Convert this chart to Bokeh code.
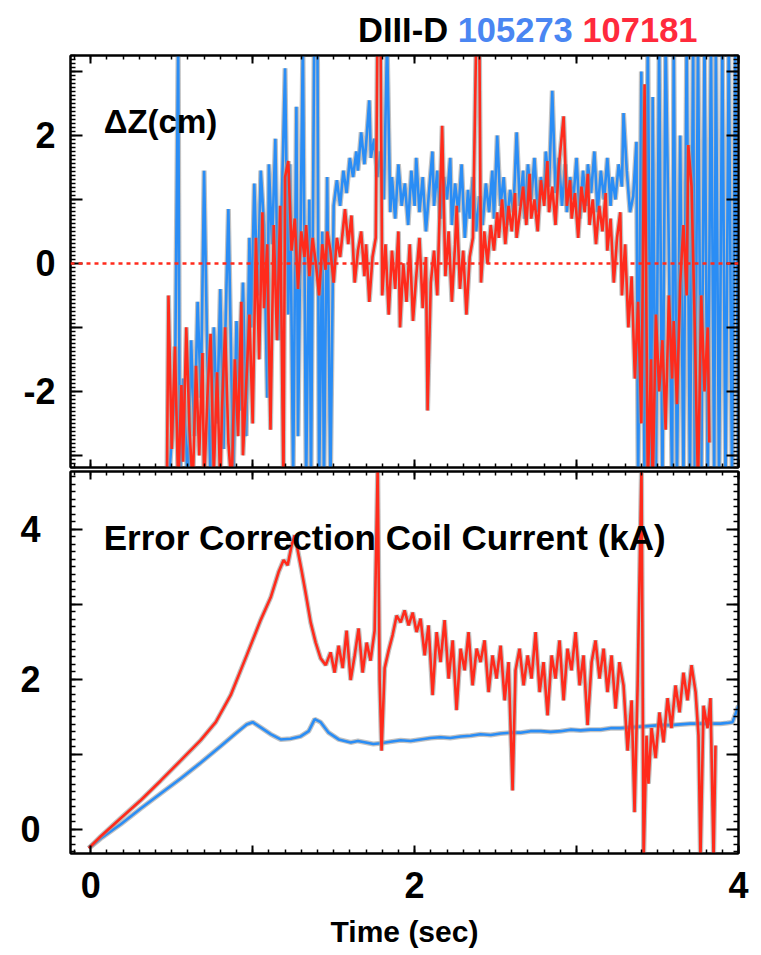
from bokeh.plotting import figure
from bokeh.layouts import column
from bokeh.models import Range1d, LinearAxis, FixedTicker, Span, Label, Div
from bokeh.embed import file_html
from bokeh.resources import INLINE

# ---------------------------------------------------------------- data
SHOT_A = "105273"   # blue
SHOT_B = "107181"   # red
BLUE = "#2a8df5"
RED = "#ff2b1c"
HALO = "#9a9a9a"

# vertical displacement Delta Z (cm) vs time (s), shot 105273
DZ_A = [
    (0.48, -3.5), (0.52, -2.0), (0.54, 3.5), (0.55, -3.5), (0.57, -1.8), (0.60, -3.5),
    (0.62, -1.2), (0.64, -2.7), (0.66, -0.6), (0.68, -2.1), (0.70, 1.45), (0.72, -1.5),
    (0.74, -3.4), (0.76, -1.0), (0.78, -2.5), (0.80, -0.4), (0.82, -2.9), (0.83, -1.2),
    (0.85, 0.85), (0.87, -1.9), (0.88, -3.4), (0.90, -0.9), (0.92, -2.3), (0.94, -0.3),
    (0.96, -2.7), (0.98, 0.4), (0.99, -1.0), (1.01, 1.25), (1.03, -0.5), (1.05, 1.45),
    (1.07, 0.6), (1.09, -2.1), (1.10, 1.55), (1.12, 0.3), (1.14, 1.95), (1.16, -1.2),
    (1.18, 1.0), (1.20, 3.05), (1.22, -0.8), (1.23, 1.55), (1.25, -3.4), (1.27, 2.45),
    (1.28, -2.7), (1.31, 3.5), (1.33, -3.5), (1.35, 1.0), (1.36, -3.5), (1.38, 3.5),
    (1.40, 3.5), (1.41, -3.5), (1.43, 0.5), (1.44, -3.5), (1.46, 1.35), (1.48, -3.5),
    (1.50, 0.9), (1.52, 1.3), (1.54, 0.9), (1.56, 1.45), (1.58, 1.1), (1.60, 1.65),
    (1.62, 1.35), (1.64, 1.75), (1.65, 1.45), (1.67, 2.05), (1.69, 1.55), (1.70, 1.85),
    (1.72, 2.55), (1.73, 1.65), (1.75, 1.95), (1.77, 1.35), (1.79, 1.75), (1.81, 1.0),
    (1.83, 3.5), (1.85, 0.8), (1.86, 1.35), (1.88, 0.7), (1.90, 1.55), (1.92, 0.9),
    (1.94, 1.25), (1.96, 0.6), (1.98, 1.45), (2.00, 0.9), (2.01, 1.65), (2.03, 0.8),
    (2.05, 1.35), (2.07, 0.5), (2.09, 1.15), (2.11, 1.75), (2.12, 0.9), (2.14, 1.45),
    (2.16, 0.7), (2.18, 1.35), (2.20, 1.0), (2.22, 1.65), (2.23, 0.6), (2.25, 1.25),
    (2.27, 0.8), (2.29, 1.55), (2.31, 0.4), (2.33, 1.15), (2.34, 0.7), (2.36, 1.35),
    (2.38, 0.5), (2.40, 1.05), (2.42, 0.6), (2.44, 1.25), (2.46, 0.8), (2.48, 1.45),
    (2.49, 0.7), (2.51, 2.0), (2.53, 0.9), (2.55, 1.35), (2.57, 0.6), (2.59, 1.15),
    (2.61, 0.8), (2.63, 2.05), (2.65, 0.9), (2.67, 1.45), (2.68, 0.7), (2.70, 1.55),
    (2.72, 1.0), (2.74, 1.65), (2.76, 0.8), (2.78, 1.35), (2.80, 1.0), (2.81, 1.75),
    (2.83, 1.2), (2.85, 2.7), (2.87, 1.1), (2.89, 1.65), (2.91, 0.9), (2.93, 1.55),
    (2.94, 0.8), (2.96, 1.35), (2.98, 1.0), (3.00, 1.65), (3.02, 0.7), (3.04, 1.45),
    (3.06, 0.9), (3.07, 1.55), (3.09, 1.1), (3.11, 1.75), (3.13, 0.8), (3.15, 1.45),
    (3.17, 1.0), (3.19, 1.65), (3.21, 0.9), (3.22, 1.35), (3.24, 1.0), (3.26, 1.55),
    (3.28, 1.2), (3.29, 2.35), (3.31, 1.45), (3.33, 0.8), (3.35, 1.05), (3.37, 1.9),
    (3.38, -3.5), (3.40, 3.0), (3.42, -3.5), (3.44, 3.5), (3.46, -3.5), (3.47, 2.6),
    (3.49, -3.5), (3.51, 3.5), (3.53, -3.5), (3.55, 3.5), (3.57, 0.2), (3.59, -3.5),
    (3.60, 3.5), (3.62, -3.5), (3.64, 2.0), (3.66, -3.5), (3.68, 3.5), (3.70, -3.5),
    (3.72, 3.5), (3.73, -3.5), (3.75, 3.5), (3.77, -3.5), (3.79, 3.5), (3.81, -3.5),
    (3.83, 3.5), (3.85, -3.5), (3.86, 3.5), (3.88, -3.5), (3.90, 3.5), (3.92, -3.5),
    (3.94, 3.5), (3.96, -3.5), (3.98, 3.5), (4.00, -3.5),
]

# vertical displacement Delta Z (cm) vs time (s), shot 107181
DZ_B = [
    (0.47, -3.5), (0.48, -0.5), (0.50, -2.9), (0.52, -1.3), (0.54, -3.5), (0.56, -1.9),
    (0.57, -3.1), (0.59, -1.0), (0.61, -2.6), (0.63, -3.5), (0.65, -1.6), (0.67, -3.0),
    (0.69, -1.4), (0.70, -3.5), (0.72, -2.1), (0.74, -1.1), (0.76, -3.3), (0.78, -1.7),
    (0.80, -3.5), (0.81, -2.3), (0.83, -1.0), (0.85, -2.8), (0.87, -3.5), (0.89, -1.5),
    (0.91, -2.7), (0.93, -0.6), (0.94, -3.0), (0.96, -1.9), (0.98, -0.8), (1.00, -2.5),
    (1.02, 0.4), (1.04, -1.5), (1.06, 0.8), (1.07, -0.7), (1.09, 0.3), (1.11, -2.6),
    (1.13, 0.6), (1.15, -1.2), (1.17, 0.9), (1.19, -3.5), (1.20, 1.35), (1.22, 1.6),
    (1.24, 0.2), (1.26, 0.7), (1.28, -0.4), (1.30, 0.5), (1.32, 0.1), (1.33, 0.6),
    (1.35, -0.2), (1.37, 0.4), (1.39, 0.0), (1.41, -0.5), (1.43, 0.3), (1.45, -0.1),
    (1.46, 0.5), (1.48, 0.2), (1.50, -0.3), (1.52, 0.4), (1.54, 0.1), (1.56, 0.6),
    (1.57, 0.85), (1.59, 0.3), (1.61, 0.75), (1.63, -0.3), (1.65, 0.2), (1.67, 0.5),
    (1.69, -0.2), (1.70, 0.3), (1.72, -0.6), (1.74, 0.1), (1.76, 0.4), (1.77, 3.5),
    (1.79, 3.5), (1.80, -0.5), (1.82, 0.3), (1.84, -0.8), (1.86, 0.2), (1.88, -0.4),
    (1.90, 0.5), (1.91, -1.0), (1.93, 0.0), (1.95, -0.6), (1.97, 0.3), (1.99, -0.9),
    (2.01, -0.2), (2.03, 0.4), (2.05, -0.7), (2.07, 0.1), (2.08, -2.3), (2.10, -0.3),
    (2.12, 0.2), (2.14, -0.5), (2.15, 0.4), (2.17, 2.15), (2.19, -0.2), (2.21, 0.5),
    (2.23, -0.6), (2.25, 0.3), (2.26, 0.9), (2.28, -0.4), (2.30, 0.2), (2.32, -0.8),
    (2.34, 0.1), (2.36, 0.4), (2.38, 3.5), (2.40, 3.5), (2.41, -0.3), (2.43, 0.5),
    (2.45, 0.0), (2.47, 0.6), (2.49, 0.2), (2.51, 0.8), (2.52, 0.4), (2.54, 1.0),
    (2.56, 0.3), (2.58, 0.9), (2.60, 0.5), (2.62, 1.1), (2.63, 0.4), (2.65, 0.8),
    (2.67, 1.2), (2.69, 0.6), (2.71, 1.4), (2.72, 0.7), (2.74, 1.0), (2.76, 0.5),
    (2.78, 1.3), (2.80, 0.9), (2.82, 1.6), (2.83, 0.8), (2.85, 1.2), (2.87, 0.6),
    (2.89, 1.5), (2.92, 2.3), (2.94, 0.9), (2.96, 1.3), (2.97, 0.7), (2.99, 1.1),
    (3.01, 0.4), (3.03, 1.2), (3.05, 0.8), (3.07, 1.4), (3.08, 0.6), (3.10, 1.0),
    (3.12, 0.3), (3.14, 0.9), (3.16, 0.5), (3.18, 1.1), (3.19, 0.2), (3.21, 0.7),
    (3.23, -0.3), (3.25, 0.4), (3.27, 0.8), (3.28, -0.5), (3.30, 0.3), (3.32, -1.0),
    (3.34, -0.2), (3.36, -1.8), (3.38, -0.6), (3.40, -2.5), (3.42, 2.8), (3.44, -3.5),
    (3.46, -1.5), (3.47, -3.5), (3.49, -0.8), (3.51, -2.0), (3.53, -1.2), (3.55, -2.6),
    (3.57, -0.5), (3.59, -1.8), (3.60, -0.9), (3.62, -2.2), (3.64, -0.3), (3.66, 0.6),
    (3.68, -0.5), (3.69, 1.85), (3.71, 1.2), (3.73, -1.0), (3.75, -3.5), (3.77, -0.5),
    (3.79, -2.0), (3.81, -1.0), (3.82, -2.8),
]

# error correction coil current (kA) vs time (s), shot 105273
ECC_A = [
    (-0.012, -0.25), (0.062, -0.12), (0.185, 0.07), (0.309, 0.28), (0.432, 0.48),
    (0.556, 0.68), (0.679, 0.89), (0.802, 1.11), (0.895, 1.28), (0.963, 1.40),
    (1.000, 1.43), (1.049, 1.36), (1.111, 1.27), (1.173, 1.20), (1.235, 1.21),
    (1.296, 1.24), (1.346, 1.31), (1.383, 1.47), (1.420, 1.43), (1.469, 1.29),
    (1.531, 1.20), (1.605, 1.16), (1.650, 1.18), (1.698, 1.16), (1.745, 1.14),
    (1.790, 1.15), (1.850, 1.17), (1.914, 1.19), (1.975, 1.18), (2.037, 1.20),
    (2.100, 1.22), (2.160, 1.23), (2.220, 1.22), (2.284, 1.24), (2.345, 1.25),
    (2.407, 1.27), (2.470, 1.26), (2.531, 1.28), (2.590, 1.29), (2.654, 1.29),
    (2.715, 1.31), (2.778, 1.31), (2.840, 1.30), (2.901, 1.31), (2.963, 1.33),
    (3.025, 1.32), (3.085, 1.33), (3.148, 1.33), (3.210, 1.35), (3.272, 1.35),
    (3.333, 1.36), (3.395, 1.37), (3.457, 1.38), (3.519, 1.39), (3.580, 1.39),
    (3.642, 1.40), (3.703, 1.41), (3.765, 1.41), (3.827, 1.41), (3.889, 1.41),
    (3.930, 1.42), (3.963, 1.43), (4.000, 1.65),
]

# error correction coil current (kA) vs time (s), shot 107181
ECC_B = [
    (-0.012, -0.25), (0.062, -0.09), (0.185, 0.15), (0.309, 0.39), (0.432, 0.65),
    (0.556, 0.92), (0.679, 1.19), (0.772, 1.43), (0.864, 1.79), (0.963, 2.32),
    (1.049, 2.79), (1.111, 3.09), (1.160, 3.43), (1.191, 3.59), (1.216, 3.52),
    (1.241, 3.79), (1.259, 3.92), (1.278, 3.72), (1.302, 3.45), (1.327, 3.15),
    (1.358, 2.76), (1.389, 2.49), (1.420, 2.28), (1.451, 2.19), (1.481, 2.36),
    (1.506, 2.09), (1.531, 2.45), (1.556, 2.15), (1.580, 2.65), (1.605, 1.99),
    (1.630, 2.32), (1.654, 2.68), (1.679, 2.09), (1.704, 2.49), (1.728, 2.25),
    (1.753, 2.65), (1.772, 4.85), (1.784, 1.99), (1.796, 1.05), (1.815, 2.15),
    (1.840, 2.39), (1.864, 2.59), (1.889, 2.85), (1.914, 2.76), (1.938, 2.92),
    (1.963, 2.72), (1.988, 2.89), (2.012, 2.63), (2.037, 2.81), (2.062, 2.32),
    (2.086, 2.72), (2.111, 1.79), (2.136, 2.63), (2.160, 2.23), (2.185, 2.79),
    (2.210, 2.01), (2.235, 2.52), (2.259, 1.59), (2.284, 2.41), (2.309, 2.12),
    (2.333, 2.63), (2.358, 1.92), (2.383, 2.41), (2.407, 2.23), (2.432, 2.52),
    (2.457, 1.83), (2.481, 2.32), (2.506, 2.01), (2.531, 2.45), (2.556, 1.72),
    (2.580, 2.23), (2.605, 0.52), (2.623, 2.12), (2.648, 2.41), (2.673, 1.92),
    (2.698, 2.32), (2.722, 2.01), (2.747, 2.63), (2.772, 1.83), (2.796, 2.23),
    (2.821, 1.52), (2.846, 2.32), (2.870, 2.01), (2.895, 2.52), (2.920, 1.72),
    (2.944, 2.41), (2.969, 2.12), (2.994, 2.63), (3.019, 1.92), (3.043, 2.32),
    (3.068, 1.39), (3.093, 2.23), (3.117, 2.52), (3.142, 2.01), (3.167, 2.41),
    (3.191, 1.83), (3.216, 2.32), (3.241, 1.61), (3.265, 2.23), (3.290, 1.92),
    (3.315, 1.05), (3.340, 1.72), (3.358, 0.23), (3.377, 1.92), (3.401, 4.85),
    (3.414, -0.40), (3.432, 1.25), (3.444, 0.61), (3.463, 1.35), (3.488, 0.95),
    (3.512, 1.56), (3.537, 1.16), (3.562, 1.75), (3.586, 1.35), (3.611, 1.92),
    (3.636, 1.56), (3.660, 2.09), (3.685, 1.72), (3.710, 2.19), (3.735, 1.83),
    (3.753, 1.25), (3.765, -0.40), (3.784, 1.65), (3.809, 1.35), (3.827, 1.75),
    (3.846, -0.40), (3.858, 1.12),
]

# axis ticks and labels
X_TICKS = [0, 1, 2, 3, 4]
X_LABELS = {0: "0", 1: "", 2: "2", 3: "", 4: "4"}
DZ_TICKS = [-3, -2, -1, 0, 1, 2, 3]
DZ_LABELS = {-3: "", -2: "-2", -1: "", 0: "0", 1: "", 2: "2", 3: ""}
ECC_TICKS = [0, 1, 2, 3, 4]
ECC_LABELS = {0: "0", 1: "", 2: "2", 3: "", 4: "4"}

# header: machine name followed by the two shot numbers
HEAD_TEXT = ["DIII-D", SHOT_A, SHOT_B]
HEAD_COLORS = ["#000000", "#4a86f2", "#ff2a3c"]

FONT = "Liberation Sans"

X_RANGE = Range1d(-0.125, 4.0)
X_MINOR = [k / 10 for k in range(-1, 41)]
DZ_MINOR = [k / 16 for k in range(-51, 53)]
ECC_MINOR = [k / 10 for k in range(-3, 48)]


def split(pairs):
    return [p[0] for p in pairs], [p[1] for p in pairs]


def frame_axis(axis, ticks, minor, major_in, minor_in, labels=None,
               size="36px", standoff=0):
    axis.ticker = FixedTicker(ticks=ticks, minor_ticks=minor)
    axis.axis_line_color = "black"
    axis.axis_line_width = 2
    axis.major_tick_in = major_in
    axis.major_tick_out = 0
    axis.minor_tick_in = minor_in
    axis.minor_tick_out = 0
    axis.major_tick_line_width = 2
    axis.minor_tick_line_width = 1.5
    axis.major_label_standoff = standoff
    if labels is None:
        axis.major_label_overrides = {t: "" for t in ticks}
        axis.major_label_text_font_size = "0px"
    else:
        axis.major_label_overrides = labels
        axis.major_label_text_font = FONT
        axis.major_label_text_font_style = "bold"
        axis.major_label_text_font_size = size
        axis.major_label_text_color = "black"


def add_frame(p, yticks, yminor, ylabels, ystandoff, xlabels):
    left = LinearAxis()
    frame_axis(left, yticks, yminor, 12, 5, ylabels, "36px", ystandoff)
    p.add_layout(left, "left")
    right = LinearAxis()
    frame_axis(right, yticks, yminor, 12, 5)
    p.add_layout(right, "right")
    above = LinearAxis()
    frame_axis(above, X_TICKS, X_MINOR, 8, 4)
    p.add_layout(above, "above")
    below = LinearAxis()
    if xlabels:
        frame_axis(below, X_TICKS, X_MINOR, 8, 4, X_LABELS, "36px", 18)
        below.axis_label = "Time (sec)"
        below.axis_label_text_font = FONT
        below.axis_label_text_font_style = "bold"
        below.axis_label_text_font_size = "30px"
        below.axis_label_text_color = "black"
        below.axis_label_standoff = 14
    else:
        frame_axis(below, X_TICKS, X_MINOR, 8, 4)
    p.add_layout(below, "below")
    p.outline_line_color = "black"
    p.outline_line_width = 2


def trace(p, pairs, color):
    t, v = split(pairs)
    p.line(t, v, line_color=HALO, line_width=5, line_alpha=0.6)
    p.line(t, v, line_color=color, line_width=2.6)


# ---------------------------------------------------------------- header strip
spans = "&nbsp;".join(
    f'<span style="color:{c}">{s}</span>' for s, c in zip(HEAD_TEXT, HEAD_COLORS)
)
head = Div(
    text=(
        '<div style="position:relative;width:761px;height:54px;">'
        '<div style="position:absolute;left:358px;top:13px;white-space:nowrap;'
        f'line-height:1;font-family:\'{FONT}\';font-weight:bold;font-size:34.5px;">'
        f"{spans}</div></div>"
    ),
    width=761, height=54, margin=(0, 0, 0, 0),
)

# ---------------------------------------------------------------- Delta Z panel
top = figure(width=761, height=416, x_range=X_RANGE, y_range=Range1d(-3.19, 3.25),
             x_axis_location=None, y_axis_location=None,
             min_border_left=70, min_border_right=23, min_border_top=1,
             min_border_bottom=3, output_backend="svg", toolbar_location=None)
top.grid.visible = False
add_frame(top, DZ_TICKS, DZ_MINOR, DZ_LABELS, 15, False)

top.add_layout(Span(location=0, dimension="width", line_color=RED,
                    line_width=2.5, line_dash="4 4"))
trace(top, DZ_A, BLUE)
trace(top, DZ_B, RED)

top.add_layout(Label(x=0.08, y=2.22, text="\u0394Z(cm)", text_font=FONT,
                     text_font_style="bold", text_font_size="33px",
                     text_baseline="alphabetic", text_color="black"))

# ---------------------------------------------------------------- coil current panel
bottom = figure(width=761, height=485, x_range=X_RANGE, y_range=Range1d(-0.32, 4.77),
                x_axis_location=None, y_axis_location=None,
                min_border_left=70, min_border_right=23, min_border_top=1,
                min_border_bottom=102, output_backend="svg", toolbar_location=None)
bottom.grid.visible = False
add_frame(bottom, ECC_TICKS, ECC_MINOR, ECC_LABELS, 30, True)

trace(bottom, ECC_A, BLUE)
trace(bottom, ECC_B, RED)

bottom.add_layout(Label(x=0.08, y=3.89, text="Error Correction Coil Current (kA)",
                        text_font=FONT, text_font_style="bold",
                        text_font_size="35px", text_baseline="alphabetic",
                        text_color="black"))

layout = column(head, top, bottom, spacing=0)
open("out.html", "w").write(file_html(layout, INLINE))
